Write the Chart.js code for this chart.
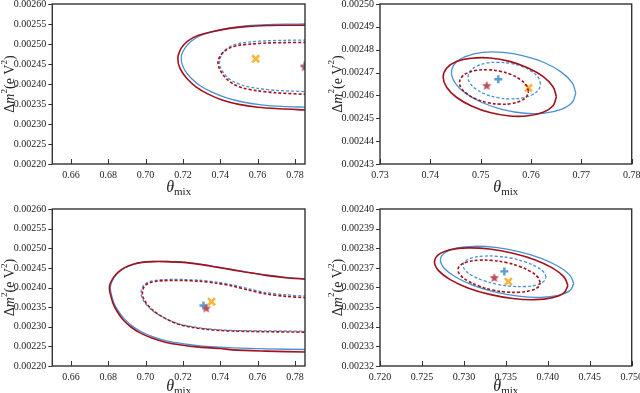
<!DOCTYPE html>
<html lang="en">
<head>
<meta charset="UTF-8">
<title>Contours in theta_mix / dm2</title>
<script src="https://cdn.jsdelivr.net/npm/chart.js@4"></script>
<style>
  body { margin: 0; background: #fff; width: 640px; height: 393px; position: relative; overflow: hidden; }
  canvas { position: absolute; }
</style>
</head>
<body>
<canvas id="c1" width="320" height="207" style="left:0;top:-10px"></canvas>
<canvas id="c2" width="340" height="207" style="left:320px;top:-10px"></canvas>
<canvas id="c3" width="320" height="196" style="left:0;top:197px"></canvas>
<canvas id="c4" width="340" height="196" style="left:320px;top:197px"></canvas>
<script>
// ---- tick values ----
const xTicksWide = [0.66, 0.68, 0.70, 0.72, 0.74, 0.76, 0.78];
const yTicksWide = [0.00220, 0.00225, 0.00230, 0.00235, 0.00240, 0.00245, 0.00250, 0.00255, 0.00260];
const xTicksP2 = [0.73, 0.74, 0.75, 0.76, 0.77, 0.78];
const yTicksP2 = [0.00243, 0.00244, 0.00245, 0.00246, 0.00247, 0.00248, 0.00249, 0.00250];
const xTicksP4 = [0.720, 0.725, 0.730, 0.735, 0.740, 0.745, 0.750];
const yTicksP4 = [0.00232, 0.00233, 0.00234, 0.00235, 0.00236, 0.00237, 0.00238, 0.00239, 0.00240];

// ---- panel 1 (top left) ----
const p1RedOuter = [[0.786,0.002547],[0.775,0.0025468],[0.765,0.0025462],[0.755,0.002544],[0.745,0.002539],[0.735,0.00253],[0.728,0.002521],[0.7225,0.002507],[0.719,0.002489],[0.7175,0.002472],[0.7173,0.002462],[0.7178,0.002447],[0.7195,0.00243],[0.7225,0.002412],[0.727,0.002393],[0.733,0.002376],[0.741,0.00236],[0.75,0.002349],[0.76,0.002342],[0.772,0.002338],[0.786,0.002335]];
const p1BlueOuter = [[0.786,0.00255],[0.775,0.0025495],[0.765,0.0025485],[0.755,0.002546],[0.745,0.00254],[0.735,0.00253],[0.729,0.00252],[0.7242,0.002506],[0.721,0.002489],[0.7193,0.002473],[0.7191,0.002463],[0.7196,0.002449],[0.7213,0.002432],[0.7243,0.002415],[0.7288,0.002397],[0.735,0.002381],[0.743,0.002366],[0.752,0.002355],[0.762,0.002348],[0.773,0.002344],[0.786,0.002342]];
const p1RedInner = [[0.786,0.002504],[0.775,0.0025035],[0.765,0.0025025],[0.757,0.0025],[0.75,0.002497],[0.7455,0.002491],[0.742,0.002481],[0.7398,0.002469],[0.7388,0.002455],[0.7393,0.002441],[0.741,0.002426],[0.7435,0.002412],[0.747,0.0024],[0.752,0.00239],[0.76,0.002383],[0.77,0.002378],[0.786,0.002374]];
const p1BlueInner = [[0.786,0.00251],[0.775,0.0025093],[0.765,0.002508],[0.757,0.0025055],[0.75,0.0025015],[0.7458,0.002495],[0.7425,0.002484],[0.7405,0.002471],[0.7396,0.002457],[0.74,0.002443],[0.7416,0.002429],[0.744,0.002416],[0.7475,0.002405],[0.7525,0.002396],[0.76,0.002389],[0.77,0.002384],[0.786,0.002381]];
const p1Star = [0.7852, 0.002442];
const p1Plus = [0.7852, 0.002446];
const p1Cross = [0.759, 0.002463];

// ---- panel 2 (top right) ----
const p2RedOuter = [[0.76505,0.0024594],[0.76437,0.0024638],[0.76242,0.0024682],[0.75943,0.0024720],[0.75575,0.0024749],[0.75185,0.0024764],[0.74818,0.0024763],[0.74518,0.0024748],[0.74323,0.0024719],[0.74255,0.0024680],[0.74323,0.0024636],[0.74518,0.0024592],[0.74818,0.0024554],[0.75185,0.0024525],[0.75575,0.0024510],[0.75943,0.0024511],[0.76242,0.0024526],[0.76437,0.0024555],[0.76505,0.0024594]];
const p2BlueOuter = [[0.76890,0.0024610],[0.76816,0.0024656],[0.76601,0.0024702],[0.76273,0.0024743],[0.75869,0.0024772],[0.75441,0.0024788],[0.75038,0.0024788],[0.74709,0.0024771],[0.74494,0.0024741],[0.74420,0.0024700],[0.74494,0.0024654],[0.74709,0.0024608],[0.75038,0.0024568],[0.75441,0.0024538],[0.75869,0.0024522],[0.76273,0.0024523],[0.76601,0.0024539],[0.76816,0.0024569],[0.76890,0.0024610]];
const p2RedInner = [[0.75950,0.0024618],[0.75909,0.0024644],[0.75790,0.0024669],[0.75608,0.0024691],[0.75384,0.0024706],[0.75146,0.0024712],[0.74923,0.0024710],[0.74740,0.0024699],[0.74621,0.0024680],[0.74580,0.0024656],[0.74621,0.0024630],[0.74740,0.0024605],[0.74923,0.0024583],[0.75146,0.0024568],[0.75384,0.0024562],[0.75608,0.0024564],[0.75790,0.0024576],[0.75909,0.0024594],[0.75950,0.0024618]];
const p2BlueInner = [[0.76190,0.0024650],[0.76147,0.0024678],[0.76022,0.0024704],[0.75830,0.0024726],[0.75595,0.0024740],[0.75345,0.0024745],[0.75110,0.0024741],[0.74918,0.0024727],[0.74793,0.0024706],[0.74750,0.0024680],[0.74793,0.0024652],[0.74918,0.0024626],[0.75110,0.0024604],[0.75345,0.0024590],[0.75595,0.0024585],[0.75830,0.0024589],[0.76022,0.0024603],[0.76147,0.0024624],[0.76190,0.0024650]];
const p2Star = [0.7512, 0.0024642];
const p2Plus = [0.7535, 0.0024671];
const p2Cross = [0.7595, 0.0024633];

// ---- panel 3 (bottom left) ----
const p3RedOuter = [[0.786,0.002421],[0.775,0.002425],[0.7645,0.002431],[0.755,0.002438],[0.7467,0.002445],[0.738,0.002452],[0.7289,0.002459],[0.72,0.002464],[0.7111,0.0024658],[0.704,0.002466],[0.698,0.002464],[0.6933,0.002459],[0.6885,0.00245],[0.6855,0.00244],[0.683,0.002427],[0.6812,0.002412],[0.6806,0.0024],[0.681,0.002385],[0.6826,0.002359],[0.685,0.002337],[0.6879,0.002318],[0.692,0.0023],[0.6968,0.002285],[0.703,0.002272],[0.7111,0.00226],[0.72,0.002253],[0.7289,0.002248],[0.74,0.0022445],[0.7467,0.002241],[0.7645,0.002238],[0.786,0.0022355]];
const p3BlueOuter = [[0.786,0.002422],[0.775,0.002426],[0.7645,0.0024318],[0.755,0.0024385],[0.7467,0.0024455],[0.738,0.0024525],[0.7289,0.0024595],[0.72,0.0024645],[0.7111,0.0024662],[0.704,0.0024662],[0.698,0.002464],[0.6935,0.0024588],[0.6888,0.0024498],[0.6858,0.0024398],[0.6834,0.0024268],[0.6817,0.0024118],[0.6811,0.0024],[0.6815,0.0023855],[0.6831,0.0023595],[0.6856,0.0023385],[0.6886,0.00232],[0.6927,0.0023025],[0.6975,0.0022878],[0.7037,0.002275],[0.7117,0.0022635],[0.7205,0.0022565],[0.7293,0.0022515],[0.74,0.002248],[0.7467,0.0022462],[0.7645,0.0022435],[0.786,0.002242]];
const p3RedInner = [[0.786,0.0023737],[0.775,0.0023775],[0.7645,0.0023835],[0.755,0.0023935],[0.7467,0.0024035],[0.738,0.002411],[0.7289,0.0024158],[0.72,0.0024178],[0.7146,0.002418],[0.7095,0.0024175],[0.7057,0.0024158],[0.7025,0.0024125],[0.7004,0.0024075],[0.699,0.0024],[0.6984,0.0023915],[0.6983,0.002381],[0.699,0.002371],[0.7004,0.0023595],[0.7035,0.0023435],[0.7075,0.0023295],[0.7125,0.0023165],[0.7182,0.0023055],[0.725,0.0022985],[0.7325,0.0022935],[0.74,0.0022905],[0.7467,0.002289],[0.7645,0.0022873],[0.786,0.0022862]];
const p3BlueInner = [[0.786,0.0023778],[0.775,0.0023815],[0.7645,0.0023872],[0.755,0.0023968],[0.7467,0.0024065],[0.738,0.0024138],[0.7289,0.0024185],[0.72,0.0024203],[0.7146,0.0024205],[0.7095,0.00242],[0.7055,0.0024182],[0.7021,0.0024148],[0.6999,0.0024095],[0.6984,0.0024018],[0.6977,0.002393],[0.6976,0.002382],[0.6983,0.0023715],[0.6998,0.0023598],[0.703,0.0023438],[0.7071,0.0023302],[0.7122,0.0023175],[0.718,0.0023068],[0.725,0.0023],[0.7325,0.002295],[0.74,0.002292],[0.7467,0.0022905],[0.7645,0.0022895],[0.786,0.0022889]];
const p3Star = [0.7325, 0.0023465];
const p3Plus = [0.731, 0.002354];
const p3Cross = [0.7353, 0.0023638];

// ---- panel 4 (bottom right) ----
const p4RedOuter = [[0.74240,0.0023610],[0.74192,0.0023654],[0.74054,0.0023700],[0.73843,0.0023742],[0.73583,0.0023775],[0.73307,0.0023796],[0.73048,0.0023802],[0.72836,0.0023792],[0.72698,0.0023767],[0.72650,0.0023730],[0.72698,0.0023686],[0.72836,0.0023640],[0.73048,0.0023598],[0.73307,0.0023565],[0.73583,0.0023544],[0.73843,0.0023538],[0.74054,0.0023548],[0.74192,0.0023573],[0.74240,0.0023610]];
const p4BlueOuter = [[0.74310,0.0023620],[0.74262,0.0023663],[0.74124,0.0023708],[0.73913,0.0023750],[0.73653,0.0023783],[0.73377,0.0023804],[0.73118,0.0023810],[0.72906,0.0023800],[0.72768,0.0023776],[0.72720,0.0023740],[0.72768,0.0023697],[0.72906,0.0023652],[0.73118,0.0023610],[0.73377,0.0023577],[0.73653,0.0023556],[0.73913,0.0023550],[0.74124,0.0023560],[0.74262,0.0023584],[0.74310,0.0023620]];
const p4RedInner = [[0.73910,0.0023625],[0.73881,0.0023653],[0.73795,0.0023681],[0.73665,0.0023707],[0.73505,0.0023727],[0.73335,0.0023738],[0.73175,0.0023739],[0.73045,0.0023731],[0.72960,0.0023714],[0.72930,0.0023690],[0.72960,0.0023662],[0.73045,0.0023634],[0.73175,0.0023608],[0.73335,0.0023588],[0.73505,0.0023577],[0.73665,0.0023576],[0.73795,0.0023584],[0.73881,0.0023601],[0.73910,0.0023625]];
const p4BlueInner = [[0.73980,0.0023653],[0.73950,0.0023679],[0.73864,0.0023706],[0.73733,0.0023730],[0.73571,0.0023749],[0.73399,0.0023759],[0.73238,0.0023760],[0.73106,0.0023752],[0.73020,0.0023735],[0.72990,0.0023713],[0.73020,0.0023686],[0.73106,0.0023659],[0.73238,0.0023635],[0.73399,0.0023616],[0.73571,0.0023606],[0.73733,0.0023605],[0.73864,0.0023613],[0.73950,0.0023630],[0.73980,0.0023653]];
const p4Star = [0.73363, 0.0023649];
const p4Plus = [0.73482, 0.0023682];
const p4Cross = [0.7353, 0.002363];

const RED = '#a3121c';
const BLUE = '#4a90d2';
const FONT = "'Liberation Serif', 'Times New Roman', serif";

function pts(arr) {
    return arr.map(([x, y]) => ({ x, y }));
}

// filled five point star used as a point style
function starImage(color, r) {
    const c = document.createElement('canvas');
    const s = Math.ceil(r * 2) + 2;
    c.width = c.height = s;
    const g = c.getContext('2d');
    g.fillStyle = color;
    g.beginPath();
    for (let i = 0; i < 10; i++) {
        const a = -Math.PI / 2 + i * Math.PI / 5;
        const rr = i % 2 ? r * 0.45 : r;
        g.lineTo(s / 2 + rr * Math.cos(a), s / 2 + rr * Math.sin(a));
    }
    g.closePath();
    g.fill();
    return c;
}
const starPic = starImage('#b9505a', 5);

// box frame, inward x ticks, outward y ticks and the two axis titles
const framePlugin = {
    id: 'frame',
    afterDraw(chart) {
        const { ctx, chartArea: a, scales } = chart;
        const o = chart.options.plugins.frame;
        ctx.save();
        ctx.strokeStyle = '#333';
        ctx.lineWidth = 1;
        scales.x.ticks.forEach(t => {
            const px = Math.round(scales.x.getPixelForValue(t.value)) + 0.5;
            ctx.beginPath(); ctx.moveTo(px, a.bottom); ctx.lineTo(px, a.bottom - 5); ctx.stroke();
        });
        scales.y.ticks.forEach(t => {
            const py = Math.round(scales.y.getPixelForValue(t.value)) + 0.5;
            ctx.beginPath(); ctx.moveTo(a.left, py); ctx.lineTo(a.left - 4, py); ctx.stroke();
        });
        ctx.lineWidth = 1.4;
        ctx.strokeRect(a.left, a.top, a.right - a.left, a.bottom - a.top);

        // x title: theta_mix
        ctx.fillStyle = '#222';
        ctx.textBaseline = 'alphabetic';
        ctx.font = 'italic 16px ' + FONT;
        const wT = ctx.measureText('θ').width;
        ctx.font = '11px ' + FONT;
        const wM = ctx.measureText('mix').width;
        let x0 = (a.left + a.right) / 2 - (wT + wM) / 2;
        const yb = a.bottom + o.xTitleOffset;
        ctx.font = 'italic 16px ' + FONT;
        ctx.fillText('θ', x0, yb);
        ctx.font = '11px ' + FONT;
        ctx.fillText('mix', x0 + wT, yb + 3);

        // y title: dm^2 (eV^2), rotated
        const parts = [
            ['Δ', '14px ', 0], ['m', 'italic 14px ', 0], ['2', '9px ', -6],
            ['(e V', '14px ', 0], ['2', '9px ', -6], [')', '14px ', 0]
        ];
        let total = 0;
        parts.forEach(p => { ctx.font = p[1] + FONT; total += ctx.measureText(p[0]).width; });
        ctx.translate(a.left - o.yTitleOffset, (a.top + a.bottom) / 2);
        ctx.rotate(-Math.PI / 2);
        let cx = -total / 2;
        ctx.textBaseline = 'middle';
        parts.forEach(p => {
            ctx.font = p[1] + FONT;
            ctx.fillText(p[0], cx, 4 + p[2]);
            cx += ctx.measureText(p[0]).width;
        });
        ctx.restore();
    }
};

function contour(data, color, dashed, tension) {
    return {
        data: pts(data),
        showLine: true,
        borderColor: color,
        borderWidth: color === RED ? 1.6 : 1.3,
        borderDash: dashed ? [3, 2] : [],
        pointRadius: 0,
        tension: tension,
        clip: 0
    };
}

function makePanel(id, p) {
    new Chart(document.getElementById(id), {
        type: 'scatter',
        data: {
            datasets: [
                contour(p.redOuter, RED, false, p.tension),
                contour(p.redInner, RED, true, p.tension),
                contour(p.blueOuter, BLUE, false, p.tension),
                contour(p.blueInner, BLUE, true, p.tension),
                { data: pts([p.star]), pointStyle: starPic, pointRadius: 5, clip: 0 },
                { data: pts([p.plus]), pointStyle: 'cross', pointRadius: 4, borderWidth: 2.4, borderColor: '#5d9ad6', clip: 0 },
                { data: pts([p.cross]), pointStyle: 'crossRot', pointRadius: 5, borderWidth: 2.6, borderColor: '#ffb43a', clip: 0 }
            ]
        },
        options: {
            responsive: false,
            animation: false,
            layout: { padding: p.pad },
            plugins: {
                legend: { display: false },
                tooltip: { enabled: false },
                frame: { xTitleOffset: p.xTitleOffset, yTitleOffset: 46 }
            },
            scales: {
                x: {
                    type: 'linear',
                    min: p.xMin, max: p.xMax,
                    grid: { display: false, drawTicks: false },
                    border: { display: false },
                    afterBuildTicks: s => { s.ticks = p.xTicks.map(v => ({ value: v })); },
                    afterFit: s => { s.height = p.xHeight; },
                    ticks: {
                        autoSkip: false, maxRotation: 0, padding: 5,
                        color: '#222', font: { family: FONT, size: 10 },
                        callback: v => v.toFixed(p.xDec)
                    }
                },
                y: {
                    type: 'linear',
                    min: p.yMin, max: p.yMax,
                    grid: { display: false, drawTicks: false },
                    border: { display: false },
                    afterBuildTicks: s => { s.ticks = p.yTicks.map(v => ({ value: v })); },
                    afterFit: s => { s.width = p.yWidth; },
                    ticks: {
                        autoSkip: false, padding: 6,
                        color: '#222', font: { family: FONT, size: 10 },
                        callback: v => v.toFixed(5)
                    }
                }
            }
        },
        plugins: [framePlugin]
    });
}

makePanel('c1', {
    redOuter: p1RedOuter, redInner: p1RedInner, blueOuter: p1BlueOuter, blueInner: p1BlueInner,
    star: p1Star, plus: p1Plus, cross: p1Cross, tension: 0.3,
    xMin: 0.65, xMax: Math.PI / 4, yMin: 0.0022, yMax: 0.0026,
    xTicks: xTicksWide, yTicks: yTicksWide, xDec: 2,
    pad: { top: 14, right: 15, left: 0, bottom: 0 }, yWidth: 52.3, xHeight: 33, xTitleOffset: 28
});
makePanel('c2', {
    redOuter: p2RedOuter, redInner: p2RedInner, blueOuter: p2BlueOuter, blueInner: p2BlueInner,
    star: p2Star, plus: p2Plus, cross: p2Cross, tension: 0.4,
    xMin: 0.73, xMax: 0.78, yMin: 0.00243, yMax: 0.0025,
    xTicks: xTicksP2, yTicks: yTicksP2, xDec: 2,
    pad: { top: 14, right: 28.3, left: 0, bottom: 0 }, yWidth: 60, xHeight: 33, xTitleOffset: 28
});
makePanel('c3', {
    redOuter: p3RedOuter, redInner: p3RedInner, blueOuter: p3BlueOuter, blueInner: p3BlueInner,
    star: p3Star, plus: p3Plus, cross: p3Cross, tension: 0.3,
    xMin: 0.65, xMax: Math.PI / 4, yMin: 0.0022, yMax: 0.0026,
    xTicks: xTicksWide, yTicks: yTicksWide, xDec: 2,
    pad: { top: 7, right: 15, left: 0, bottom: 0 }, yWidth: 52.3, xHeight: 27, xTitleOffset: 25
});
makePanel('c4', {
    redOuter: p4RedOuter, redInner: p4RedInner, blueOuter: p4BlueOuter, blueInner: p4BlueInner,
    star: p4Star, plus: p4Plus, cross: p4Cross, tension: 0.4,
    xMin: 0.72, xMax: 0.75, yMin: 0.00232, yMax: 0.0024,
    xTicks: xTicksP4, yTicks: yTicksP4, xDec: 3,
    pad: { top: 7, right: 28.3, left: 0, bottom: 0 }, yWidth: 60, xHeight: 27, xTitleOffset: 25
});
</script>
</body>
</html>
